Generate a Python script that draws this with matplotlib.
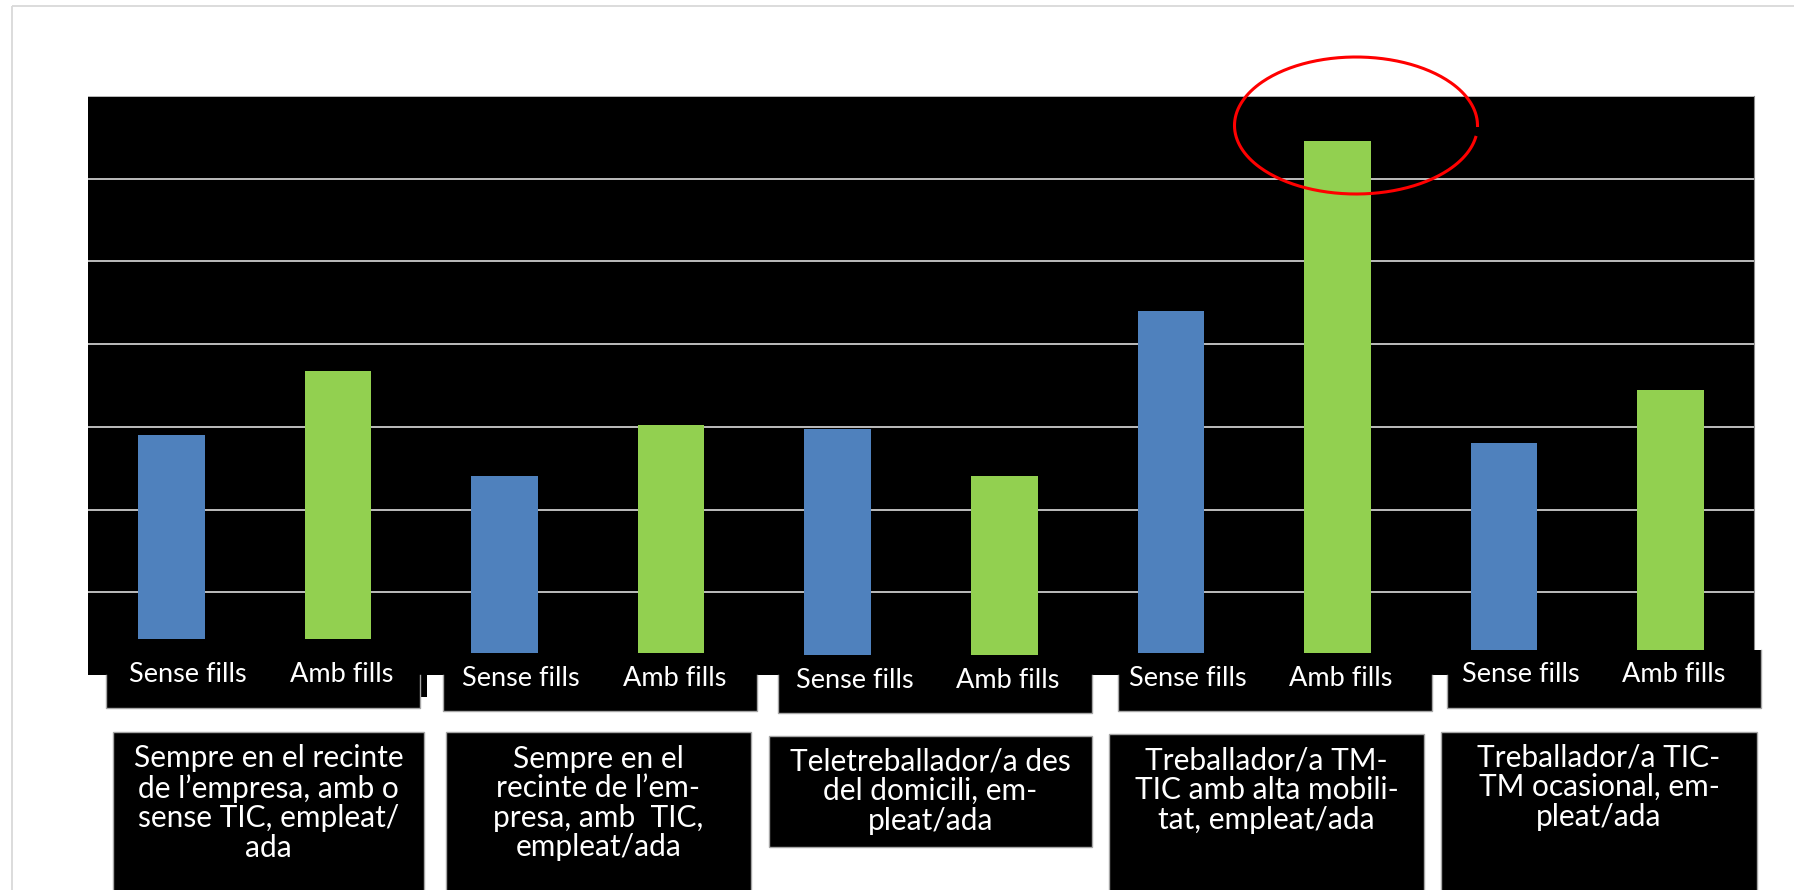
import matplotlib
matplotlib.use("Agg")
import numpy as np
import matplotlib.pyplot as plt
from matplotlib.patches import Rectangle
from matplotlib.transforms import blended_transform_factory

plt.rcParams['font.family'] = ['Lato', 'DejaVu Sans']

# data (percent, hidden data labels)
groups = [
    "Sempre en el recinte\nde l\u2019empresa, amb o\nsense TIC, empleat/\nada",
    "Sempre en el\nrecinte de l\u2019em-\npresa, amb  TIC,\nempleat/ada",
    "Teletreballador/a des\ndel domicili, em-\npleat/ada",
    "Treballador/a TM-\nTIC amb alta mobili-\ntat, empleat/ada",
    "Treballador/a TIC-\nTM ocasional, em-\npleat/ada",
]
series = ["Sense fills", "Amb fills"]
sense_fills = [14.5, 12.0, 14.9, 22.0, 14.0]
amb_fills = [18.4, 15.1, 12.0, 32.3, 17.2]
colors = ["#4f81bd", "#92d050"]

W, H = 1794, 890
fig = plt.figure(figsize=(W / 100, H / 100), dpi=100)

# plot area (pixels: x 88..1754, y 96..675)
ax = fig.add_axes([88 / W, 1 - 675 / H, 1666 / W, (675 - 96) / H])
ax.set_facecolor("black")
for i, (s, a) in enumerate(zip(sense_fills, amb_fills)):
    ax.bar(2 * i, s, width=0.4, color=colors[0], zorder=2)
    ax.bar(2 * i + 1, a, width=0.4, color=colors[1], zorder=2)
ax.set_xlim(-0.5, 2 * len(groups) - 0.5)
ax.set_ylim(0, 35)
ax.set_yticks(range(5, 36, 5))
ax.yaxis.grid(True, color="#bdbdbd", lw=1.4)
ax.set_axisbelow(True)
ax.tick_params(left=False, bottom=False, labelleft=False, labelbottom=False)
for side in ["left", "bottom", "top"]:
    ax.spines[side].set_visible(False)
ax.spines["right"].set_color("#8c8c8c")
ax.spines["right"].set_linewidth(0.8)

# overlay in pixel coordinates for the pasted label boxes
ov = fig.add_axes([0, 0, 1, 1], zorder=5)
ov.set_xlim(0, W)
ov.set_ylim(H, 0)
ov.axis("off")

# outer frame
ov.add_patch(Rectangle((12, 6), W, H, fill=False, ec="#d9d9d9", lw=1.3))

edge = "#a6a6a6"
bar_boxes = [(106, 639, 420, 708), (443, 653, 757, 711), (778, 655, 1092, 713),
             (1118, 653, 1432, 711), (1447, 650, 1761, 708)]
label_y = [675, 678, 680, 679, 675]
for (x0, y0, x1, y1) in bar_boxes:
    ov.add_patch(Rectangle((x0, y0), x1 - x0, y1 - y0, fc="black", ec="none"))
    rtop = 675 if x1 < 1754 else y0
    ov.plot([x0, x0, x1, x1], [675, y1, y1, rtop], color=edge, lw=1)
ov.add_patch(Rectangle((420, 670), 7, 27, fc="black", ec="none"))

tr = blended_transform_factory(ax.transData, ov.transData)
for i in range(len(groups)):
    ov.text(2 * i + 0.1, label_y[i], series[0], transform=tr, color="white",
            fontsize=19.5, ha="center", va="center")
    ov.text(2 * i + 1 + 0.02, label_y[i], series[1], transform=tr, color="white",
            fontsize=19.5, ha="center", va="center")

group_boxes = [(113, 732, 424, 900), (446, 732, 751, 900), (769, 736, 1092, 847),
               (1109, 734, 1424, 900), (1441, 732, 1757, 900)]
text_y = [803, 803, 791, 790, 787]
for (x0, y0, x1, y1), lab, ty in zip(group_boxes, groups, text_y):
    ov.add_patch(Rectangle((x0, y0), x1 - x0, y1 - y0, fc="black", ec=edge, lw=1))
    ov.text((x0 + x1) / 2, ty, lab, color="white", fontsize=21.5, ha="center",
            va="center", multialignment="center", linespacing=1.07)

# red highlight ellipse, small break just below its right end
t = np.radians(np.linspace(10, 360, 300))
ov.plot(1356 + 121.5 * np.cos(t), 125.5 + 68.5 * np.sin(t), color="#ff0000", lw=2.2)

fig.savefig("out.png", dpi=100)
